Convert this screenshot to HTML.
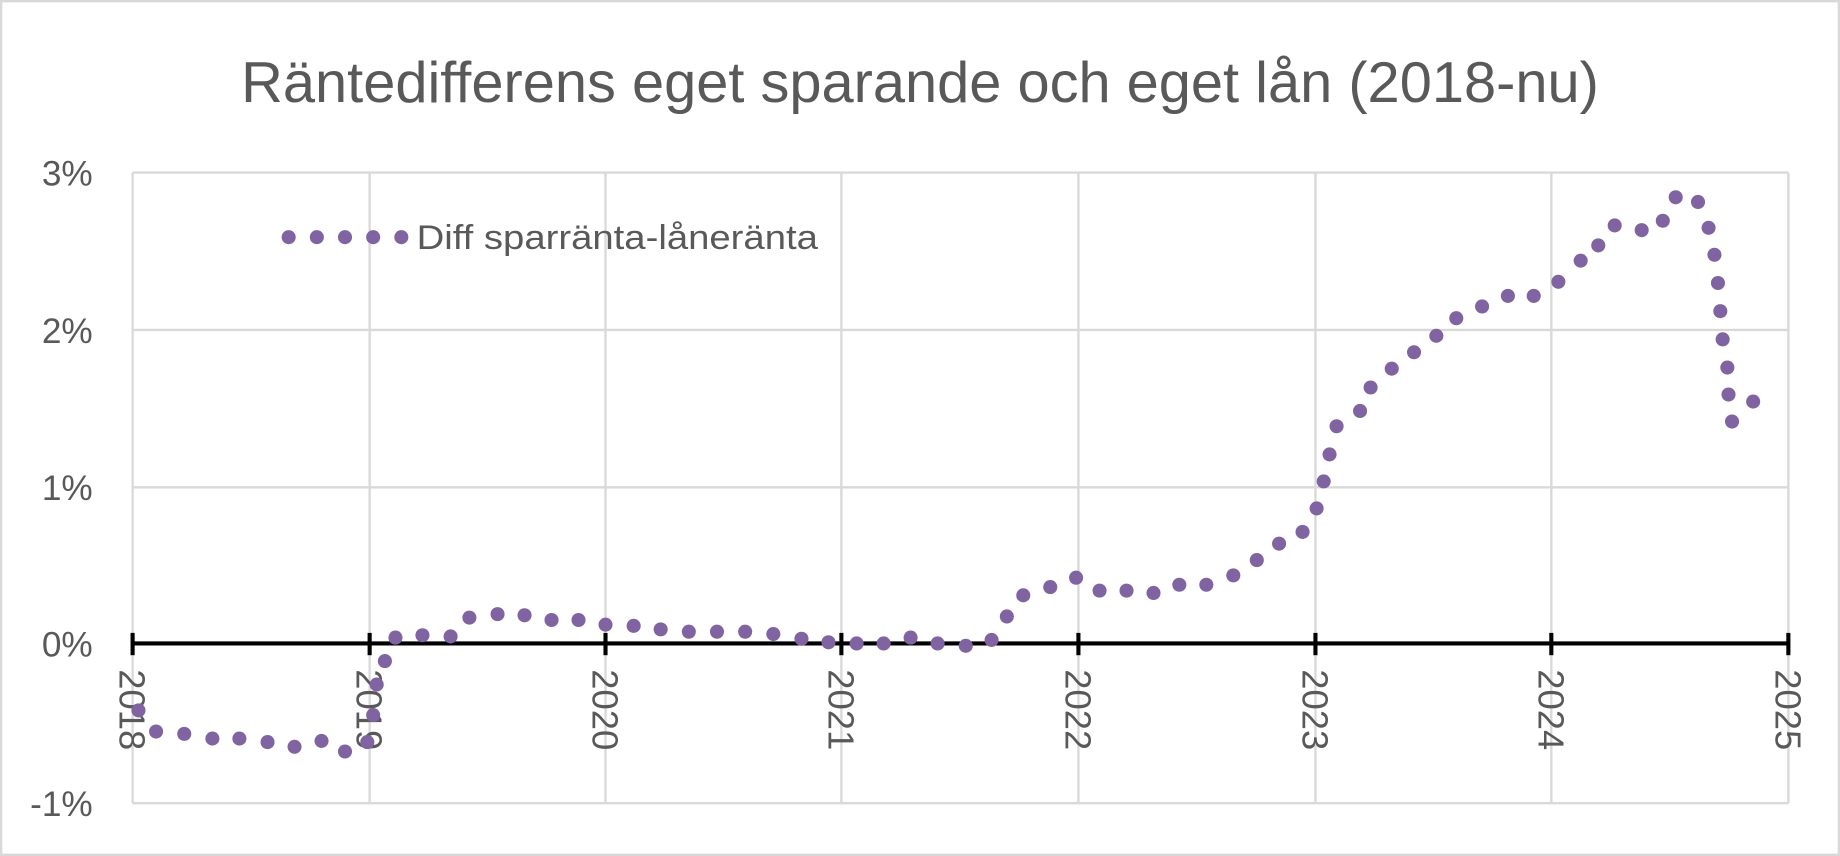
<!DOCTYPE html>
<html><head><meta charset="utf-8"><style>
html,body{margin:0;padding:0;background:#fff;}
svg{display:block;}
text{font-family:"Liberation Sans",sans-serif;fill:#595959;}
</style></head><body>
<svg width="1840" height="856" viewBox="0 0 1568 729" preserveAspectRatio="none">
<rect x="1" y="1" width="1566" height="727" fill="#fff" stroke="#d9d9d9" stroke-width="2"/>
<text x="784" y="87" text-anchor="middle" font-size="49" textLength="1157" lengthAdjust="spacingAndGlyphs">Räntedifferens eget sparande och eget lån (2018-nu)</text>
<g stroke="#d9d9d9" stroke-width="2">
<line x1="113" y1="147" x2="1524" y2="147"/>
<line x1="113" y1="281" x2="1524" y2="281"/>
<line x1="113" y1="415" x2="1524" y2="415"/>
<line x1="113" y1="684" x2="1524" y2="684"/>
<line x1="113" y1="147" x2="113" y2="684"/>
<line x1="315" y1="147" x2="315" y2="684"/>
<line x1="516" y1="147" x2="516" y2="684"/>
<line x1="717" y1="147" x2="717" y2="684"/>
<line x1="919" y1="147" x2="919" y2="684"/>
<line x1="1121" y1="147" x2="1121" y2="684"/>
<line x1="1322" y1="147" x2="1322" y2="684"/>
<line x1="1524" y1="147" x2="1524" y2="684"/>
</g>
<g stroke="#000" stroke-width="3.5">
<line x1="113" y1="548" x2="1524" y2="548"/>
<line x1="113" y1="539" x2="113" y2="558"/>
<line x1="315" y1="539" x2="315" y2="558"/>
<line x1="516" y1="539" x2="516" y2="558"/>
<line x1="717" y1="539" x2="717" y2="558"/>
<line x1="919" y1="539" x2="919" y2="558"/>
<line x1="1121" y1="539" x2="1121" y2="558"/>
<line x1="1322" y1="539" x2="1322" y2="558"/>
<line x1="1524" y1="539" x2="1524" y2="558"/>
</g>
<g font-size="30" text-anchor="end">
<text x="79" y="158">3%</text>
<text x="79" y="292">2%</text>
<text x="79" y="426">1%</text>
<text x="79" y="559">0%</text>
<text x="79" y="695">-1%</text>
</g>
<g font-size="31">
<text transform="translate(102,570) rotate(90)">2018</text>
<text transform="translate(304,570) rotate(90)">2019</text>
<text transform="translate(505,570) rotate(90)">2020</text>
<text transform="translate(706,570) rotate(90)">2021</text>
<text transform="translate(908,570) rotate(90)">2022</text>
<text transform="translate(1110,570) rotate(90)">2023</text>
<text transform="translate(1311,570) rotate(90)">2024</text>
<text transform="translate(1513,570) rotate(90)">2025</text>
</g>
<text x="355" y="212" font-size="29" textLength="342" lengthAdjust="spacingAndGlyphs">Diff sparränta-låneränta</text>
<g fill="#8064a2">
<circle cx="246" cy="202" r="6"/><circle cx="270" cy="202" r="6"/><circle cx="294" cy="202" r="6"/><circle cx="318" cy="202" r="6"/><circle cx="342" cy="202" r="6"/>
<circle cx="118" cy="605" r="6"/><circle cx="133" cy="623" r="6"/><circle cx="157" cy="625" r="6"/><circle cx="181" cy="629" r="6"/><circle cx="204" cy="629" r="6"/><circle cx="228" cy="632" r="6"/><circle cx="251" cy="636" r="6"/><circle cx="274" cy="631" r="6"/><circle cx="294" cy="640" r="6"/><circle cx="313" cy="632" r="6"/>
<circle cx="318" cy="609" r="6"/><circle cx="321" cy="583" r="6"/><circle cx="328" cy="563" r="6"/><circle cx="337" cy="543" r="6"/><circle cx="360" cy="541" r="6"/><circle cx="384" cy="542" r="6"/><circle cx="400" cy="526" r="6"/><circle cx="424" cy="523" r="6"/><circle cx="447" cy="524" r="6"/><circle cx="470" cy="528" r="6"/>
<circle cx="493" cy="528" r="6"/><circle cx="516" cy="532" r="6"/><circle cx="540" cy="533" r="6"/><circle cx="563" cy="536" r="6"/><circle cx="587" cy="538" r="6"/><circle cx="611" cy="538" r="6"/><circle cx="635" cy="538" r="6"/><circle cx="659" cy="540" r="6"/><circle cx="683" cy="544" r="6"/><circle cx="706" cy="547" r="6"/>
<circle cx="730" cy="548" r="6"/><circle cx="753" cy="548" r="6"/><circle cx="776" cy="543" r="6"/><circle cx="799" cy="548" r="6"/><circle cx="823" cy="550" r="6"/><circle cx="845" cy="545" r="6"/><circle cx="858" cy="525" r="6"/><circle cx="872" cy="507" r="6"/><circle cx="895" cy="500" r="6"/><circle cx="917" cy="492" r="6"/>
<circle cx="937" cy="503" r="6"/><circle cx="960" cy="503" r="6"/><circle cx="983" cy="505" r="6"/><circle cx="1005" cy="498" r="6"/><circle cx="1028" cy="498" r="6"/><circle cx="1051" cy="490" r="6"/><circle cx="1071" cy="477" r="6"/><circle cx="1090" cy="463" r="6"/><circle cx="1110" cy="453" r="6"/><circle cx="1122" cy="433" r="6"/>
<circle cx="1128" cy="410" r="6"/><circle cx="1133" cy="387" r="6"/><circle cx="1139" cy="363" r="6"/><circle cx="1159" cy="350" r="6"/><circle cx="1168" cy="330" r="6"/><circle cx="1186" cy="314" r="6"/><circle cx="1205" cy="300" r="6"/><circle cx="1224" cy="286" r="6"/><circle cx="1241" cy="271" r="6"/><circle cx="1263" cy="261" r="6"/>
<circle cx="1285" cy="252" r="6"/><circle cx="1307" cy="252" r="6"/><circle cx="1328" cy="240" r="6"/><circle cx="1347" cy="222" r="6"/><circle cx="1362" cy="209" r="6"/><circle cx="1376" cy="192" r="6"/><circle cx="1399" cy="196" r="6"/><circle cx="1417" cy="188" r="6"/><circle cx="1428" cy="168" r="6"/><circle cx="1447" cy="172" r="6"/>
<circle cx="1456" cy="194" r="6"/><circle cx="1461" cy="217" r="6"/><circle cx="1464" cy="241" r="6"/><circle cx="1466" cy="265" r="6"/><circle cx="1468" cy="289" r="6"/><circle cx="1472" cy="313" r="6"/><circle cx="1473" cy="336" r="6"/><circle cx="1476" cy="359" r="6"/><circle cx="1494" cy="342" r="6"/>
</g>
</svg>
</body></html>
